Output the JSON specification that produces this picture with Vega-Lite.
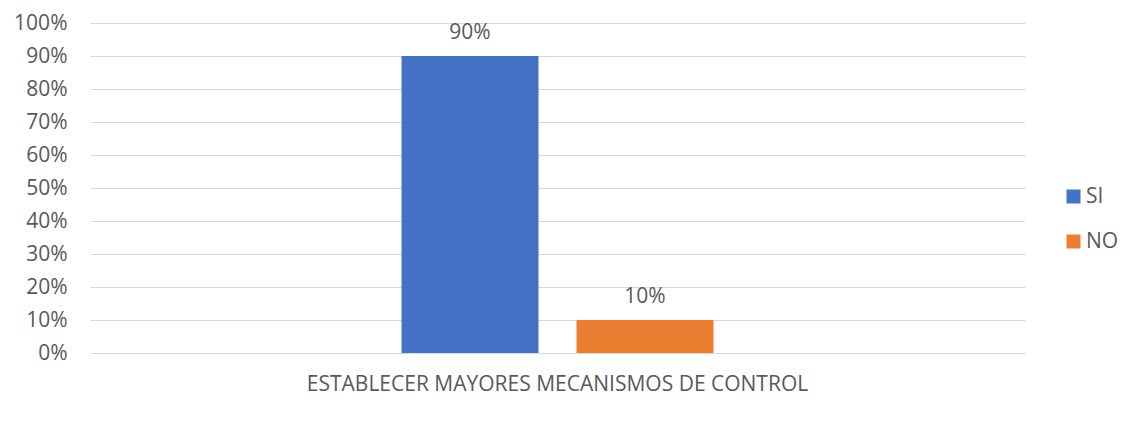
{
  "$schema": "https://vega.github.io/schema/vega-lite/v6.json",
  "width": 935,
  "height": 330,
  "autosize": {"type": "none"},
  "padding": {"left": 90, "top": 23, "right": 114, "bottom": 72},
  "background": "white",
  "config": {
    "font": "Open Sans",
    "view": {"stroke": null},
    "axis": {"labelColor": "#595959", "labelFont": "Open Sans", "labelFontSize": 21, "ticks": false, "domain": false, "title": null, "labelOverlap": false},
    "legend": {"labelColor": "#595959", "labelFont": "Open Sans", "labelFontSize": 21}
  },
  "data": {
    "values": [
      {"categoria": "ESTABLECER MAYORES MECANISMOS DE CONTROL", "respuesta": "SI", "valor": 0.9},
      {"categoria": "ESTABLECER MAYORES MECANISMOS DE CONTROL", "respuesta": "NO", "valor": 0.1}
    ]
  },
  "encoding": {
    "x": {
      "field": "categoria", "type": "nominal",
      "scale": {"paddingInner": 0, "paddingOuter": 0.9984},
      "axis": {"labelAngle": 0, "labelPadding": 20, "grid": false, "labelLimit": 900}
    },
    "xOffset": {
      "field": "respuesta", "type": "nominal", "sort": ["SI", "NO"],
      "scale": {"paddingInner": 0.217, "paddingOuter": 0}
    },
    "y": {
      "field": "valor", "type": "quantitative",
      "scale": {"domain": [0, 1]},
      "axis": {"format": "%", "values": [0, 0.1, 0.2, 0.3, 0.4, 0.5, 0.6, 0.7, 0.8, 0.9, 1], "grid": true, "gridColor": "#d9d9d9", "gridWidth": 1, "labelPadding": 23}
    }
  },
  "layer": [
    {
      "mark": {"type": "bar"},
      "encoding": {
        "color": {
          "field": "respuesta", "type": "nominal", "sort": ["SI", "NO"],
          "scale": {"domain": ["SI", "NO"], "range": ["#4472C4", "#ED7D31"]},
          "legend": {"title": null, "orient": "none", "legendX": 973, "legendY": 163, "symbolType": "square", "symbolSize": 196, "symbolStrokeWidth": 0, "rowPadding": 23, "labelOffset": 2}
        }
      }
    },
    {
      "mark": {"type": "text", "baseline": "alphabetic", "dy": -17, "fontSize": 21, "color": "#595959", "font": "Open Sans"},
      "encoding": {
        "text": {"field": "valor", "type": "quantitative", "format": ".0%"}
      }
    }
  ]
}
